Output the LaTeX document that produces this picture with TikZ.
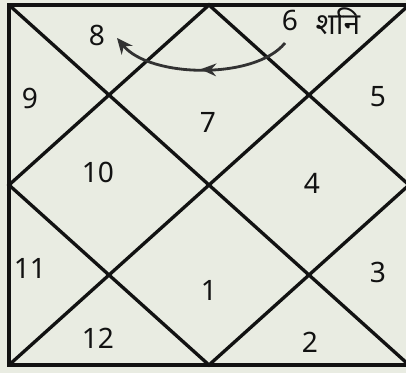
\documentclass[tikz,border=0pt]{standalone}
\usepackage{fontspec}
\setmainfont{Noto Sans}
\newfontfamily\devfont[Script=Devanagari]{Noto Sans}
\usetikzlibrary{arrows.meta,decorations.markings}
\definecolor{paper}{RGB}{233,236,226}
\definecolor{ink}{RGB}{18,18,18}
\definecolor{pencil}{RGB}{50,50,50}

\begin{document}
\begin{tikzpicture}[x=0.1mm, y=-0.1mm,
    every node/.style={font=\fontsize{8}{9}\selectfont, text=ink},
    chartline/.style={ink, line width=0.95pt},
    transit/.style={pencil, line width=0.8pt, -{Stealth[length=4.5pt,width=4pt]},
        postaction={decorate},
        decoration={markings, mark=at position 0.5 with {\arrow{Stealth[length=4.5pt,width=3.6pt]}}}}]

    \useasboundingbox (0,0) rectangle (406,373);
    \fill[paper] (0,0) rectangle (406,373);
    \clip (0,0) rectangle (406,373);

    % chart frame
    \coordinate (tl) at (9,5);
    \coordinate (tr) at (409,5);
    \coordinate (br) at (409,365);
    \coordinate (bl) at (9,365);
    \coordinate (tm) at (209,5);
    \coordinate (rm) at (409,185);
    \coordinate (bm) at (209,365);
    \coordinate (lm) at (9,185);

    \draw[chartline, line width=1.15pt] (tl) rectangle (416,365);
    \draw[chartline] (tl) -- (br);
    \draw[chartline] (bl) -- (tr);
    \draw[chartline] (tm) -- (rm) -- (bm) -- (lm) -- cycle;

    % house numbers
    \foreach \n/\x/\y in {1/209/290, 2/310/342, 3/378/272, 4/312/183,
                          5/378/97, 6/290/20, 7/208/122, 8/97/35,
                          9/30/98, 10/98/172, 11/30/268, 12/98/338}{
        \node (h\n) at (\x,\y) {\n};
    }
    \node[font=\devfont\fontsize{8.5}{9}\selectfont] (shani) at (338,21) {शनि};

    % transit of Saturn
    \coordinate (s) at (285,43);
    \coordinate (e) at (117,38);
    \draw[transit] (s) .. controls (255,80) and (150,78) .. (e);

\end{tikzpicture}
\end{document}
